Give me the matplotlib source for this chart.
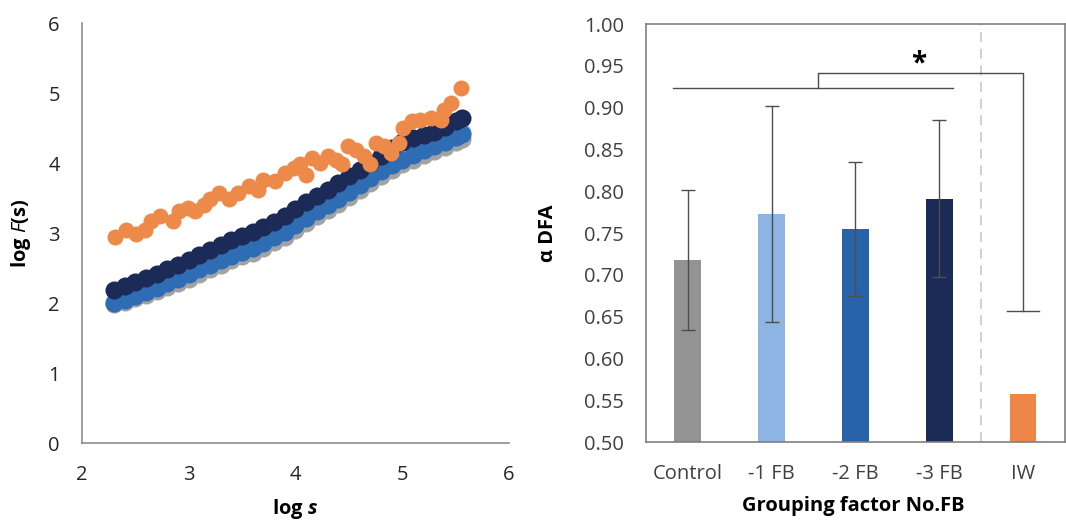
import numpy as np
import matplotlib
matplotlib.use('Agg')
import matplotlib.pyplot as plt

plt.rcParams['font.family'] = ['Open Sans', 'DejaVu Sans']
plt.rcParams['mathtext.fontset'] = 'custom'
plt.rcParams['mathtext.rm'] = 'Open Sans'
plt.rcParams['mathtext.it'] = 'Open Sans:italic'
plt.rcParams['mathtext.bf'] = 'Open Sans:bold'
plt.rcParams['mathtext.bfit'] = 'Open Sans:italic:bold'

# left panel: log F(s) vs log s
log_s = [2.30, 2.40, 2.50, 2.60, 2.70, 2.80, 2.90, 3.00, 3.10, 3.20, 3.30, 3.40,
         3.50, 3.60, 3.70, 3.80, 3.90, 4.00, 4.10, 4.20, 4.30, 4.40, 4.50, 4.60,
         4.70, 4.80, 4.90, 5.00, 5.10, 5.20, 5.30, 5.40, 5.50, 5.56]
f_3fb = [2.19, 2.24, 2.30, 2.36, 2.42, 2.48, 2.55, 2.62, 2.69, 2.76, 2.83, 2.90,
         2.96, 3.02, 3.09, 3.16, 3.25, 3.35, 3.44, 3.53, 3.62, 3.72, 3.81, 3.90,
         4.00, 4.10, 4.22, 4.30, 4.36, 4.40, 4.45, 4.52, 4.60, 4.64]
f_2fb = [2.00, 2.05, 2.10, 2.16, 2.22, 2.28, 2.34, 2.41, 2.48, 2.55, 2.61, 2.67,
         2.73, 2.79, 2.86, 2.94, 3.02, 3.11, 3.21, 3.31, 3.40, 3.49, 3.58, 3.68,
         3.78, 3.88, 3.97, 4.05, 4.12, 4.18, 4.24, 4.30, 4.37, 4.42]
f_1fb = [2.02, 2.07, 2.12, 2.18, 2.24, 2.30, 2.36, 2.43, 2.50, 2.57, 2.63, 2.69,
         2.75, 2.81, 2.88, 2.96, 3.04, 3.13, 3.23, 3.33, 3.42, 3.52, 3.61, 3.71,
         3.82, 3.92, 4.00, 4.08, 4.15, 4.21, 4.27, 4.33, 4.40, 4.45]
f_ctrl = [1.98, 2.02, 2.07, 2.12, 2.17, 2.23, 2.28, 2.35, 2.42, 2.49, 2.55, 2.61,
          2.67, 2.72, 2.79, 2.87, 2.95, 3.04, 3.14, 3.24, 3.33, 3.42, 3.51, 3.61,
          3.71, 3.81, 3.90, 3.98, 4.05, 4.11, 4.17, 4.23, 4.30, 4.35]

log_s_iw = [2.31, 2.41, 2.51, 2.59, 2.65, 2.73, 2.85, 2.91, 2.99, 3.06, 3.14, 3.20,
            3.28, 3.38, 3.46, 3.56, 3.65, 3.70, 3.81, 3.90, 3.99, 4.04, 4.10, 4.15,
            4.23, 4.30, 4.38, 4.44, 4.49, 4.57, 4.64, 4.70, 4.75, 4.83, 4.89, 4.97,
            5.01, 5.09, 5.17, 5.27, 5.36, 5.39, 5.46, 5.55]
f_iw = [2.95, 3.05, 2.98, 3.05, 3.17, 3.24, 3.17, 3.31, 3.36, 3.31, 3.40, 3.48,
        3.57, 3.48, 3.57, 3.67, 3.62, 3.76, 3.74, 3.86, 3.93, 3.98, 3.83, 4.07,
        4.00, 4.10, 4.05, 3.98, 4.24, 4.19, 4.10, 3.98, 4.29, 4.24, 4.14, 4.29,
        4.50, 4.60, 4.62, 4.64, 4.62, 4.76, 4.86, 5.07]

# right panel: alpha DFA by group
groups = ['Control', '-1 FB', '-2 FB', '-3 FB', 'IW']
alpha = [0.718, 0.773, 0.755, 0.791, 0.558]
err = [0.084, 0.129, 0.080, 0.094, 0.099]
colors = ['#939393', '#8db4e2', '#2862a8', '#1b2a56', '#ed8647']

fig = plt.figure(figsize=(10.66, 5.21), dpi=100)

ax = fig.add_axes([0.0769, 0.1497, 0.4006, 0.806])
ms = 13
ax.plot(log_s, f_ctrl, 'o', color='#a3a3a3', ms=ms, mew=0)
ax.plot(log_s, f_1fb, 'o', color='#9cc3ea', ms=ms, mew=0)
ax.plot(log_s, f_2fb, 'o', color='#2e6db4', ms=ms, mew=0)
ax.plot(log_s, f_3fb, 'o', color='#1b2a56', ms=ms, mew=0)
ax.plot(log_s_iw, f_iw, 'o', color='#ed8a4a', ms=11.5, mew=0)
ax.set_xlim(2, 6)
ax.set_ylim(0, 6)
ax.set_xticks([2, 3, 4, 5, 6])
ax.set_yticks([0, 1, 2, 3, 4, 5, 6])
for sp in ['top', 'right']:
    ax.spines[sp].set_visible(False)
for sp in ['left', 'bottom']:
    ax.spines[sp].set_color('#8c8c8c')
    ax.spines[sp].set_linewidth(1.2)
ax.tick_params(length=0, pad=16, labelsize=14.5, labelcolor='#262626')
ax.set_xlabel(r'log $\mathbfit{s}$', fontsize=14.5, fontweight='bold')
ax.set_ylabel(r'log $\mathit{F}$(s)', fontsize=14.5, fontweight='bold')
ax.xaxis.set_label_coords(0.5, -0.128)
ax.yaxis.set_label_coords(-0.115, 0.5)

bx = fig.add_axes([0.606, 0.1516, 0.393, 0.802])
x = np.arange(len(groups))
bx.bar(x, alpha, width=0.32, color=colors, zorder=2)
bx.errorbar(x[:4], alpha[:4], yerr=err[:4], fmt='none', ecolor='#4d4d4d',
            elinewidth=1, capsize=5, capthick=1, zorder=3)
bx.set_xlim(-0.5, 4.5)
bx.set_ylim(0.5, 1.0)
bx.set_yticks(np.arange(0.50, 1.001, 0.05))
bx.set_yticklabels(['%.2f' % v for v in np.arange(0.50, 1.001, 0.05)])
bx.set_xticks(x)
bx.set_xticklabels(groups)
for sp in bx.spines.values():
    sp.set_color('#7f7f7f')
    sp.set_linewidth(1.2)
bx.tick_params(length=0, pad=16, labelsize=14.5, labelcolor='#404040')
bx.set_xlabel('Grouping factor No.FB', fontsize=14.5, fontweight='bold')
bx.set_ylabel('α DFA', fontsize=14.5, fontweight='bold')
bx.xaxis.set_label_coords(0.494, -0.13)
bx.yaxis.set_label_coords(-0.21, 0.5)

# separator and significance bracket
bx.axvline(3.5, color='#c8c8c8', lw=1.2, ls=(0, (6, 4)), zorder=1)
lc = '#4d4d4d'
bx.plot([-0.18, 3.16], [0.924, 0.924], color=lc, lw=1)
bx.plot([1.55, 1.55, 4.0, 4.0], [0.924, 0.941, 0.941, alpha[4] + err[4]], color=lc, lw=1)
bx.plot([3.81, 4.19], [alpha[4] + err[4]] * 2, color=lc, lw=1)
bx.text(2.75, 0.952, '*', ha='center', va='center', fontsize=20, fontweight='bold')

fig.savefig('out.png', dpi=100)
